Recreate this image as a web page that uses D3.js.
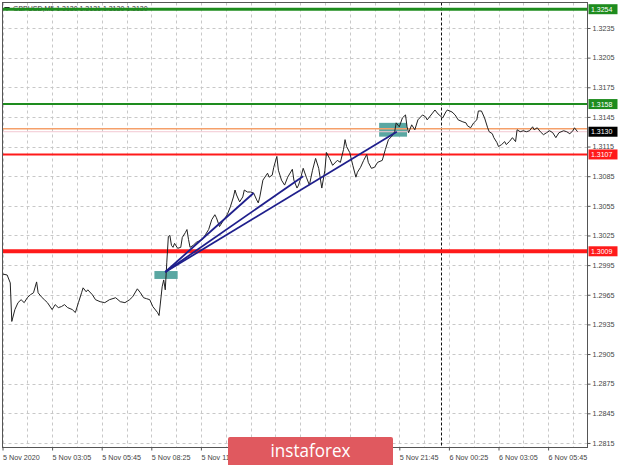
<!DOCTYPE html>
<html><head><meta charset="utf-8">
<script src="https://cdn.jsdelivr.net/npm/d3@7"></script>
<style>html,body{margin:0;padding:0;background:#fff;}svg{display:block;}</style>
</head><body>
<script>
// ---- data ----
const times = ["5 00:25","5 00:40","5 00:50","5 00:55","5 01:05","5 01:15","5 01:25","5 01:35","5 01:45","5 01:55","5 02:05","5 02:15","5 02:20","5 02:30","5 02:40","5 02:50","5 03:05","5 03:15","5 03:25","5 03:35","5 03:45","5 03:55","5 04:10","5 04:20","5 04:30","5 04:40","5 04:45","5 04:55","5 05:00","5 05:15","5 05:25","5 05:40","5 05:55","5 06:10","5 06:30","5 06:45","5 07:00","5 07:15","5 07:25","5 07:40","5 07:50","5 08:00","5 08:10","5 08:20","5 08:30","5 08:45","5 08:50","5 09:00","5 09:05","5 09:10","5 09:15","5 09:20","5 09:25","5 09:30","5 09:35","5 09:40","5 09:50","5 10:00","5 10:05","5 10:15","5 10:20","5 10:25","5 10:30","5 10:40","5 10:50","5 11:10","5 11:20","5 11:30","5 11:40","5 11:50","5 11:55","5 12:05","5 12:15","5 12:30","5 12:40","5 12:50","5 12:55","5 13:00","5 13:10","5 13:20","5 13:25","5 13:35","5 13:45","5 13:55","5 14:05","5 14:10","5 14:15","5 14:25","5 14:40","5 14:45","5 14:55","5 15:00","5 15:10","5 15:15","5 15:25","5 15:35","5 15:45","5 16:00","5 16:05","5 16:15","5 16:20","5 16:25","5 16:35","5 16:45","5 16:55","5 17:05","5 17:15","5 17:25","5 17:35","5 17:45","5 17:50","5 18:00","5 18:10","5 18:25","5 18:35","5 18:45","5 18:50","5 18:55","5 19:05","5 19:15","5 19:25","5 19:30","5 19:40","5 19:50","5 20:00","5 20:05","5 20:15","5 20:25","5 20:35","5 20:50","5 21:00","5 21:10","5 21:20","5 21:30","5 21:35","5 21:45","5 21:55","5 22:05","5 22:10","5 22:15","5 22:25","5 22:35","5 22:45","5 23:00","5 23:10","5 23:15","5 23:30","5 23:40","5 23:50","6 00:05","6 00:15","6 00:20","6 00:35","6 00:45","6 00:55","6 01:10","6 01:20","6 01:25","6 01:35","6 01:45","6 01:55","6 02:00","6 02:10","6 02:20","6 02:30","6 02:35","6 02:45","6 02:50","6 03:00","6 03:05","6 03:15","6 03:25","6 03:30","6 03:40","6 03:50","6 04:00","6 04:05","6 04:15","6 04:25","6 04:35","6 04:45","6 04:55","6 05:00","6 05:10","6 05:20","6 05:30","6 05:40","6 05:50","6 06:00","6 06:10","6 06:20","6 06:35","6 06:45","6 06:55","6 07:05","6 07:10","6 07:20"];
const prices = [1.2986,1.2985,1.2977,1.2938,1.2950,1.2957,1.2960,1.2957,1.2962,1.2965,1.2967,1.2978,1.2967,1.2963,1.2960,1.2957,1.2950,1.2955,1.2952,1.2953,1.2955,1.2952,1.2950,1.2947,1.2957,1.2967,1.2972,1.2968,1.2970,1.2965,1.2960,1.2958,1.2957,1.2960,1.2962,1.2958,1.2957,1.2960,1.2963,1.2971,1.2967,1.2962,1.2961,1.2960,1.2953,1.2947,1.2944,1.2973,1.2980,1.2970,1.2998,1.3024,1.3025,1.3015,1.3013,1.3017,1.3012,1.3013,1.3023,1.3028,1.3031,1.3021,1.3013,1.3015,1.3018,1.3021,1.3026,1.3031,1.3041,1.3046,1.3043,1.3034,1.3039,1.3046,1.3054,1.3064,1.3071,1.3066,1.3059,1.3064,1.3071,1.3069,1.3069,1.3068,1.3061,1.3058,1.3064,1.3081,1.3088,1.3084,1.3086,1.3094,1.3105,1.3091,1.3081,1.3076,1.3084,1.3092,1.3081,1.3073,1.3076,1.3081,1.3093,1.3084,1.3076,1.3091,1.3103,1.3093,1.3073,1.3091,1.3109,1.3103,1.3096,1.3101,1.3099,1.3112,1.3122,1.3115,1.3109,1.3096,1.3084,1.3089,1.3094,1.3101,1.3107,1.3099,1.3093,1.3094,1.3099,1.3101,1.3112,1.3122,1.3125,1.3130,1.3139,1.3135,1.3144,1.3147,1.3135,1.3129,1.3137,1.3132,1.3142,1.3147,1.3145,1.3142,1.3148,1.3152,1.3148,1.3144,1.3150,1.3152,1.3150,1.3147,1.3142,1.3140,1.3139,1.3136,1.3134,1.3139,1.3142,1.3151,1.3151,1.3144,1.3134,1.3130,1.3128,1.3124,1.3119,1.3115,1.3117,1.3120,1.3117,1.3120,1.3124,1.3120,1.3132,1.3130,1.3131,1.3130,1.3131,1.3135,1.3132,1.3134,1.3130,1.3127,1.3129,1.3131,1.3129,1.3124,1.3129,1.3131,1.3130,1.3128,1.3131,1.3134,1.3130];

const yTicks = [1.3235,1.3205,1.3175,1.3145,1.3115,1.3085,1.3055,1.3025,1.2995,1.2965,1.2935,1.2905,1.2875,1.2845,1.2815];
// labels hidden behind the banner in the reference (13:45, 16:25, 19:05) are left out
const xTickTimes = ["5 00:25","5 03:05","5 05:45","5 08:25","5 11:05","5 21:45","6 00:25","6 03:05","6 05:45"];
const xTickLabels = ["5 Nov 2020","5 Nov 03:05","5 Nov 05:45","5 Nov 08:25","5 Nov 11:05","5 Nov 21:45","6 Nov 00:25","6 Nov 03:05","6 Nov 05:45"];

// horizontal levels: price, colour, width
const levelPrices = [1.3254, 1.3158, 1.3107, 1.3009];
const levelColors = ["#1e8c1e", "#1e8c1e", "#ff1a1a", "#ff1a1a"];
const levelWidths = [3, 2, 2, 4];
const bidPrice = 1.3130, askLinePrice = 1.3133;

// analysis marks
const boxTimes = [["5 08:35","5 09:50"],["5 20:40","5 22:10"]];
const boxPrices = [[1.2989,1.2981],[1.3139,1.3125]];
const rayStart = ["5 09:10", 1.2988];
const rayEndTimes = ["5 13:55","5 16:35","5 21:37"];
const rayEndPrices = [1.3068, 1.3085, 1.3130];
const daySeparator = "6 00:00";
const title = "GBPUSD,M5  1.3130 1.3131 1.3130 1.3130";

// ---- chart ----
const W = 620, H = 465;
const L = 2.5, R = 587.5, T = 2.5, B = 447.5;
const parseT = s => { const [d, hm] = s.split(" "); const [h, m] = hm.split(":"); return new Date(2020, 10, +d, +h, +m); };

const svg = d3.select("body").append("svg").attr("width", W).attr("height", H)
  .style("font-family", "'Liberation Sans', Arial, sans-serif");

const x = d3.scaleTime().domain([parseT("5 00:25"), parseT("6 05:45")]).range([2.5, 548.1]);
const y = d3.scaleLinear().domain([1.28099, 1.32613]).range([448, 2]);

svg.append("defs").append("clipPath").attr("id", "clip")
  .append("rect").attr("x", L).attr("y", T).attr("width", R - L).attr("height", B - T);

// gridlines
const grid = svg.append("g").attr("clip-path", "url(#clip)");
grid.selectAll("line.h").data(yTicks).join("line")
  .attr("x1", L).attr("x2", R).attr("y1", d => Math.round(y(d)) + 0.5).attr("y2", d => Math.round(y(d)) + 0.5)
  .attr("stroke", "#c8c8c8").attr("stroke-dasharray", "3,3");
const t0 = parseT("5 00:25").getTime();
const vGrid = d3.range(0, 30).map(k => new Date(t0 + k * 80 * 60000));
grid.selectAll("line.v").data(vGrid).join("line")
  .attr("x1", d => Math.round(x(d)) + 0.5).attr("x2", d => Math.round(x(d)) + 0.5).attr("y1", T).attr("y2", B)
  .attr("stroke", "#c8c8c8").attr("stroke-dasharray", "3,3");

// day separator
const xs = Math.round(x(parseT(daySeparator))) + 0.5;
grid.append("line").attr("x1", xs).attr("x2", xs)
  .attr("y1", T).attr("y2", B).attr("stroke", "#111").attr("stroke-dasharray", "3,2");

// title
svg.append("path").attr("d", "M4,7 L10,7 L7,11 Z").attr("fill", "#222");
svg.append("text").attr("x", 13).attr("y", 11).attr("font-size", 7).attr("fill", "#333").text(title);

const marks = svg.append("g").attr("clip-path", "url(#clip)");
// boxes
marks.selectAll("rect.box").data(boxTimes).join("rect")
  .attr("x", d => x(parseT(d[0]))).attr("width", d => x(parseT(d[1])) - x(parseT(d[0])))
  .attr("y", (d, i) => y(boxPrices[i][0])).attr("height", (d, i) => y(boxPrices[i][1]) - y(boxPrices[i][0]))
  .attr("fill", "#5aa7a2");

// bid/ask lines
marks.append("line").attr("x1", L).attr("x2", R).attr("y1", y(askLinePrice)).attr("y2", y(askLinePrice))
  .attr("stroke", "#f5a06a").attr("stroke-width", 1.5);
marks.append("line").attr("x1", L).attr("x2", R).attr("y1", y(bidPrice)).attr("y2", y(bidPrice))
  .attr("stroke", "#f2c8d2").attr("stroke-width", 1);

// levels
marks.selectAll("line.lvl").data(levelPrices).join("line")
  .attr("x1", L).attr("x2", R).attr("y1", d => y(d)).attr("y2", d => y(d))
  .attr("stroke", (d, i) => levelColors[i]).attr("stroke-width", (d, i) => levelWidths[i]);

// price line
const series = times.map((t, i) => [parseT(t), prices[i]]);
marks.append("path").datum(series)
  .attr("d", d3.line().x(d => x(d[0])).y(d => y(d[1])))
  .attr("fill", "none").attr("stroke", "#222").attr("stroke-width", 1);

// rays
marks.selectAll("line.ray").data(rayEndTimes).join("line")
  .attr("x1", x(parseT(rayStart[0]))).attr("y1", y(rayStart[1]))
  .attr("x2", d => x(parseT(d))).attr("y2", (d, i) => y(rayEndPrices[i]))
  .attr("stroke", "#1f1f8c").attr("stroke-width", 1.8);

// frame
svg.append("rect").attr("x", L).attr("y", T).attr("width", R - L).attr("height", B - T)
  .attr("fill", "none").attr("stroke", "#555");

// y axis
const yAxis = svg.append("g").attr("transform", `translate(${R},0)`)
  .call(d3.axisRight(y).tickValues(yTicks).tickFormat(d3.format(".4f")).tickSize(3).tickPadding(2));
yAxis.select(".domain").remove();
yAxis.selectAll("line").attr("stroke", "#555");
yAxis.selectAll("text").attr("font-size", 7.2).attr("fill", "#444").attr("font-family", "'Liberation Sans', Arial, sans-serif");

// x axis
const xAxis = svg.append("g").attr("transform", `translate(0,${B})`)
  .call(d3.axisBottom(x).tickValues(xTickTimes.map(parseT)).tickFormat((d, i) => xTickLabels[i]).tickSize(3).tickPadding(3));
xAxis.select(".domain").remove();
xAxis.selectAll("line").attr("stroke", "#555");
xAxis.selectAll("text").attr("font-size", 7.2).attr("fill", "#444").attr("text-anchor", "start")
  .attr("font-family", "'Liberation Sans', Arial, sans-serif").attr("dy", "0.9em");

// price labels on the right
const tagPrices = levelPrices.concat([bidPrice]);
const tagColors = levelColors.concat(["#000"]);
const tags = svg.append("g");
tags.selectAll("rect").data(tagPrices).join("rect")
  .attr("x", R + 1).attr("y", d => y(d) - 5).attr("width", 29).attr("height", 10)
  .attr("fill", (d, i) => tagColors[i]);
tags.selectAll("text").data(tagPrices).join("text")
  .attr("x", R + 3.5).attr("y", d => y(d) + 2.6).attr("font-size", 7).attr("fill", "#fff")
  .text(d => d3.format(".4f")(d));

// banner
svg.append("rect").attr("x", 228).attr("y", 437).attr("width", 165).attr("height", 30).attr("rx", 2)
  .attr("fill", "#e0595f");
svg.append("text").attr("x", 310.5).attr("y", 457).attr("text-anchor", "middle")
  .attr("font-family", "'Open Sans', sans-serif").attr("font-size", 18).attr("fill", "#fff")
  .attr("textLength", 80).attr("lengthAdjust", "spacingAndGlyphs")
  .text("instaforex");
</script>
</body></html>
